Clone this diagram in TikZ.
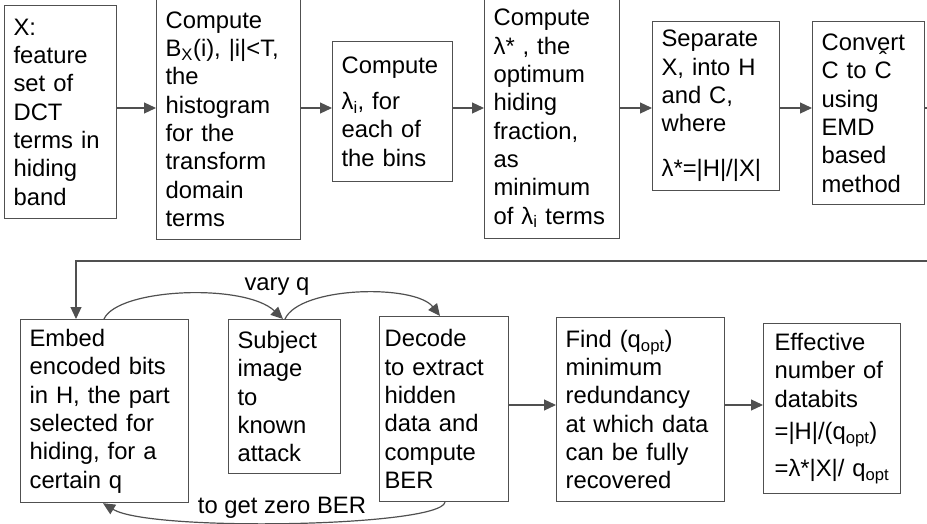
\documentclass[tikz,border=0pt]{standalone}
\usepackage{fontspec}
\setmainfont{Liberation Sans}
\usetikzlibrary{arrows.meta}
\definecolor{linec}{HTML}{505050}
\newcommand{\boxfont}{\fontsize{23.8}{28.3}\selectfont}
% C with a raised circumflex above it
\newcommand{\hatC}{\makebox[0pt][l]{\hspace{4.5pt}\raisebox{10pt}{ˆ}}C}

\begin{document}
\begin{tikzpicture}[x=1pt,y=-1pt,
  box/.style={draw=linec, line width=1.2pt, anchor=north west, align=left,
    inner xsep=9pt, inner ysep=0pt, font=\boxfont},
  link/.style={draw=linec, line width=1.2pt},
  arr/.style={link, -{Triangle[length=12pt,width=11pt]}},
  lbl/.style={font=\boxfont, inner sep=0pt, anchor=base}]
\useasboundingbox (0,0) rectangle (927,524);

% rows of the connectors
\coordinate (ya) at (0,108);
\coordinate (yc) at (0,405);
\coordinate (outA) at (927,108);
\coordinate (outB) at (927,261);

% top row
\node[box, minimum width=112pt, minimum height=213pt, text width=94pt] (b1) at (4,5)
  {X:\\ feature\\ set~of\\ DCT\\ terms~in\\ hiding\\ band};
\node[box, minimum width=144pt, minimum height=241pt, text width=126pt] (b2) at (156,-2)
  {Compute\\ B\textsubscript{X}(i),~|i|<T,\\ the\\ histogram\\ for~the\\ transform\\ domain\\ terms};
\node[box, minimum width=120pt, minimum height=140pt, text width=102pt] (b3) at (332,41)
  {Compute\\[8pt] λ\textsubscript{i},~for\\ each~of\\ the~bins};
\node[box, minimum width=135pt, minimum height=240pt, text width=117pt] (b4) at (484,-2)
  {Compute\\ λ*~,~the\\ optimum\\ hiding\\ fraction,\\ as\\ minimum\\ of~λ\textsubscript{i}~terms};
\node[box, minimum width=127pt, minimum height=169pt, text width=109pt] (b5) at (652,21)
  {Separate\\ X,~into~H\\ and~C,\\ where\\[17pt] λ*=|H|/|X|};
\node[box, minimum width=112pt, minimum height=183pt, text width=94pt] (b6) at (812,21)
  {Convert\\ C~to~\hatC\\ using\\ EMD\\ based\\ method};

% bottom row
\node[box, minimum width=168pt, minimum height=183pt, text width=150pt] (b7) at (20,319)
  {Embed\\ encoded~bits\\ in~H,~the~part\\ selected~for\\ hiding,~for~a\\ certain~q};
\node[box, minimum width=112pt, minimum height=154pt, text width=94pt] (b8) at (228,319)
  {Subject\\ image\\ to\\ known\\ attack};
\node[box, inner xsep=5pt, minimum width=129pt, minimum height=185pt, text width=119pt] (b9) at (379,316)
  {Decode\\ to~extract\\ hidden\\ data~and\\ compute\\ BER};
\node[box, minimum width=168pt, minimum height=184pt, text width=150pt] (b10) at (556,317)
  {Find~(q\textsubscript{opt})\\ minimum\\ redundancy\\ at~which~data\\ can~be~fully\\ recovered};
\node[box, inner xsep=11pt, minimum width=137pt, minimum height=170pt, text width=115pt] (b11) at (763,323)
  {Effective\\ number~of\\ databits\\[4pt] =|H|/(q\textsubscript{opt})\\[9pt] =λ*|X|/~q\textsubscript{opt}};

% straight connectors
\draw[arr] (b1.east |- ya) -- (b2.west |- ya);
\draw[arr] (b2.east |- ya) -- (b3.west |- ya);
\draw[arr] (b3.east |- ya) -- (b4.west |- ya);
\draw[arr] (b4.east |- ya) -- (b5.west |- ya);
\draw[arr] (b5.east |- ya) -- (b6.west |- ya);
\draw[link] (b6.east |- ya) -- (outA);
\draw[arr] (outB) -| ([xshift=56pt]b7.north west);
\draw[arr] (b9.east |- yc) -- (b10.west |- yc);
\draw[arr] (b10.east |- yc) -- (b11.west |- yc);

% loop over q
\draw[arr] ([xshift=84pt]b7.north west) .. controls (118,288) and (245,283) .. ([xshift=55pt]b8.north west);
\draw[arr] ([xshift=57pt]b8.north west) .. controls (300,286) and (415,284) .. ([xshift=61pt]b9.north west);
\draw[arr] ([xshift=66pt]b9.south west) .. controls (440,527) and (150,532) .. ([xshift=83pt]b7.south west);

\node[lbl] (varyq) at (277,290) {vary q};
\node[lbl] (zerober) at (282,513) {to get zero BER};
\end{tikzpicture}
\end{document}
